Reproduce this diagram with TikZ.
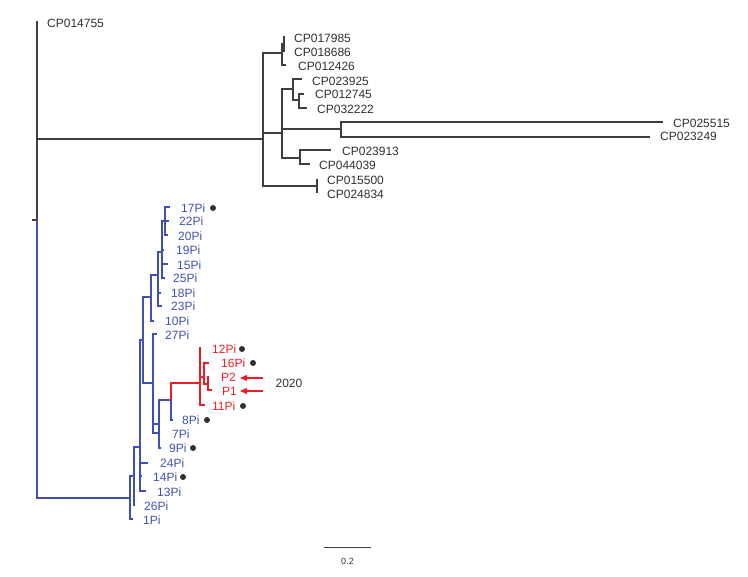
\documentclass[tikz,border=0pt]{standalone}
\usepackage{fontspec}
\setmainfont{Liberation Sans}
\usetikzlibrary{arrows.meta}
\definecolor{treeblk}{RGB}{62,62,62}
\definecolor{treeblue}{RGB}{64,80,178}
\definecolor{treered}{RGB}{238,30,36}
\definecolor{txtblk}{RGB}{48,48,48}
\tikzset{
  brk/.style={draw=treeblk,line width=1.4pt},
  brb/.style={draw=treeblue,line width=1.4pt},
  brr/.style={draw=treered,line width=1.4pt},
  lbk/.style={anchor=west,inner sep=0pt,text=txtblk,font=\fontsize{12}{14}\selectfont},
  lbb/.style={lbk,text=treeblue},
  lbr/.style={lbk,text=treered},
  mark dot/.style={circle,fill=txtblk,inner sep=0pt,minimum size=6pt},
}
\begin{document}
\begin{tikzpicture}[x=1pt,y=-1pt]
\useasboundingbox (0,0) rectangle (748,577);
% ---- coordinates: root and outgroup clade
\coordinate (root) at (37,220);
\coordinate (rootstub) at (32,220);
\coordinate (t014755) at (38,22);
\coordinate (c0) at (263,139);
\coordinate (c1) at (282,53);
\coordinate (c1a) at (284,44);
\coordinate (t017985) at (285,37);
\coordinate (t018686) at (285,51);
\coordinate (t012426) at (286,65);
\coordinate (c2) at (282,133);
\coordinate (c2a) at (293,89);
\coordinate (t023925) at (302,79);
\coordinate (c2a1) at (299,100);
\coordinate (t012745) at (304,94);
\coordinate (t032222) at (307,108);
\coordinate (c2b) at (341,129);
\coordinate (t025515) at (663,122);
\coordinate (t023249) at (650,137);
\coordinate (c2c) at (300,158);
\coordinate (t023913) at (331,150);
\coordinate (t044039) at (310,164);
\coordinate (c3) at (317,186);
\coordinate (t015500) at (317,179);
\coordinate (t024834) at (317,193);
% ---- blue clade
\coordinate (b0) at (130,498);
\coordinate (t1Pi) at (133,519);
\coordinate (b1) at (134,476);
\coordinate (t26Pi) at (135,505);
\coordinate (b2) at (140,447);
\coordinate (t13Pi) at (146,491);
\coordinate (t24Pi) at (148,463);
\coordinate (t14Pi) at (142,476);
\coordinate (U) at (143,340);
\coordinate (P) at (151,297);
\coordinate (t10Pi) at (154,321);
\coordinate (R) at (158,275);
\coordinate (t18Pi) at (161,293);
\coordinate (t23Pi) at (162,306);
\coordinate (S) at (162,252);
\coordinate (t19Pi) at (164,250);
\coordinate (t15Pi) at (168,264);
\coordinate (t25Pi) at (165,278);
\coordinate (V) at (165,221);
\coordinate (t17Pi) at (170,207);
\coordinate (t22Pi) at (169,221);
\coordinate (t20Pi) at (168,235);
\coordinate (Q) at (153,383);
\coordinate (t27Pi) at (157,334);
\coordinate (t7Pi) at (160,433);
\coordinate (W) at (159,424);
\coordinate (t9Pi) at (161,448);
\coordinate (X) at (171,400);
\coordinate (t8Pi) at (173,420);
% ---- red clade
\coordinate (Rn) at (200,383);
\coordinate (t12Pi) at (201,348);
\coordinate (t11Pi) at (205,405);
\coordinate (Y) at (204,377);
\coordinate (t16Pi) at (209,363);
\coordinate (Z) at (208,384);
\coordinate (tP2) at (209,377);
\coordinate (tP1) at (212,390);
% ---- branches
\draw[brk] (root) -- (rootstub);
\foreach \a/\b in {root/t014755,root/c0,c0/c1,c1/c1a,c1a/t017985,c1a/t018686,c1/t012426,
  c0/c2,c2/c2a,c2a/t023925,c2a/c2a1,c2a1/t012745,c2a1/t032222,c2/c2b,c2b/t025515,c2b/t023249,
  c2/c2c,c2c/t023913,c2c/t044039,c0/c3,c3/t015500,c3/t024834}
  \draw[brk] (\a) |- (\b);
\foreach \a/\b in {root/b0,b0/t1Pi,b0/b1,b1/t26Pi,b1/b2,b2/t13Pi,b2/t24Pi,b2/t14Pi,b2/U,
  U/P,P/t10Pi,P/R,R/t18Pi,R/t23Pi,R/S,S/t19Pi,S/t15Pi,S/t25Pi,S/V,V/t17Pi,V/t22Pi,V/t20Pi,
  U/Q,Q/t27Pi,Q/t7Pi,Q/W,W/t9Pi,W/X,X/t8Pi}
  \draw[brb] (\a) |- (\b);
\foreach \a/\b in {X/Rn,Rn/t12Pi,Rn/t11Pi,Rn/Y,Y/t16Pi,Y/Z,Z/tP2,Z/tP1}
  \draw[brr] (\a) |- (\b);
% ---- labels
\node[lbk] (l014755) at (47,23) {CP014755};
\node[lbk] (l017985) at (294,38) {CP017985};
\node[lbk] (l018686) at (294,52) {CP018686};
\node[lbk] (l012426) at (298,66) {CP012426};
\node[lbk] (l023925) at (312,81) {CP023925};
\node[lbk] (l012745) at (315,94.5) {CP012745};
\node[lbk] (l032222) at (317,109) {CP032222};
\node[lbk] (l025515) at (673,123) {CP025515};
\node[lbk] (l023249) at (660,136.5) {CP023249};
\node[lbk] (l023913) at (342,151) {CP023913};
\node[lbk] (l044039) at (319,165) {CP044039};
\node[lbk] (l015500) at (327,180) {CP015500};
\node[lbk] (l024834) at (327,194) {CP024834};
\node[lbb] (l17) at (181,208) {17Pi};
\node[lbb] (l22) at (179,221.5) {22Pi};
\node[lbb] (l20) at (178,236) {20Pi};
\node[lbb] (l19) at (176,250) {19Pi};
\node[lbb] (l15) at (177,265) {15Pi};
\node[lbb] (l25) at (173,278.5) {25Pi};
\node[lbb] (l18) at (171,293) {18Pi};
\node[lbb] (l23) at (171,306.5) {23Pi};
\node[lbb] (l10) at (165,321) {10Pi};
\node[lbb] (l27) at (165,335) {27Pi};
\node[lbr] (l12) at (212,349) {12Pi};
\node[lbr] (l16) at (221,363) {16Pi};
\node[lbr] (lP2) at (221,377.5) {P2};
\node[lbr] (lP1) at (222,391) {P1};
\node[lbr] (l11) at (212,406) {11Pi};
\node[lbb] (l8) at (182,420) {8Pi};
\node[lbb] (l7) at (172,434) {7Pi};
\node[lbb] (l9) at (169,448) {9Pi};
\node[lbb] (l24) at (160,463) {24Pi};
\node[lbb] (l14) at (153,477) {14Pi};
\node[lbb] (l13) at (157,492) {13Pi};
\node[lbb] (l26) at (144,506) {26Pi};
\node[lbb] (l1) at (143,520) {1Pi};
% ---- dots
\node[mark dot] (d17) at (213,208) {};
\node[mark dot] (d12) at (242,349) {};
\node[mark dot] (d16) at (253,363) {};
\node[mark dot] (d11) at (243,406) {};
\node[mark dot] (d8) at (207,420) {};
\node[mark dot] (d9) at (193,448) {};
\node[mark dot] (d14) at (183,477) {};
% ---- 2020 arrows
\coordinate (a2s) at (263,378);
\coordinate (a2e) at (240,378);
\coordinate (a1s) at (263,391);
\coordinate (a1e) at (240,391);
\draw[brr,-{Triangle[length=7pt,width=6pt]}] (a2s) -- (a2e);
\draw[brr,-{Triangle[length=7pt,width=6pt]}] (a1s) -- (a1e);
\node[lbk,anchor=center] (y2020) at (289,383.5) {2020};
% ---- scale bar
\coordinate (sb1) at (324,548);
\coordinate (sb2) at (371,548);
\draw[draw=treeblk,line width=1pt] (sb1) -- (sb2);
\node[lbk,anchor=center,font=\fontsize{9}{10}\selectfont] (sbl) at (347.5,561) {0.2};
\end{tikzpicture}
\end{document}
